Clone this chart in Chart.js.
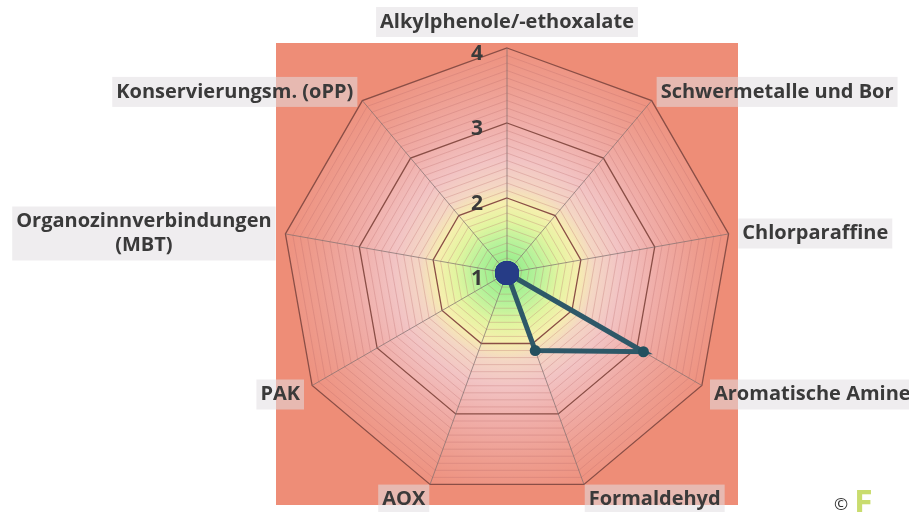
<!DOCTYPE html>
<html>
<head>
<meta charset="utf-8">
<script src="https://cdn.jsdelivr.net/npm/chart.js@4.4.0/dist/chart.umd.min.js"></script>
<style>
  html, body { margin: 0; padding: 0; background: #fff; }
  #wrap { position: relative; width: 909px; height: 512px; overflow: hidden; }
  .mark { position: absolute; font-family: "Open Sans"; }
</style>
</head>
<body>
<div id="wrap">
  <canvas id="chart" width="909" height="512"></canvas>
  <span class="mark" style="left:834px; top:492px; font-size:17px; color:#333;">©</span>
  <span class="mark" style="left:854px; top:478px; font-size:34px; font-weight:bold; color:#C9DC6E;">F</span>
</div>
<script>
// Categories, clockwise from the top
const categories = [
    'Alkylphenole/-ethoxalate',
    'Schwermetalle und Bor',
    'Chlorparaffine',
    'Aromatische Amine',
    'Formaldehyd',
    'AOX',
    'PAK',
    ['Organozinnverbindungen', '(MBT)'],
    'Konservierungsm. (oPP)'
];
const seriesValues = [1, 1, 1, 3.1, 2.1, 1, 1, 1, 1];
const tickLabels = [1, 2, 3, 4];

const labelFont = 'bold 20px "Open Sans"';

// Square + gradient behind the web
const backgroundPlugin = {
    id: 'webBackground',
    beforeDraw(chart) {
        const r = chart.scales.r;
        const ctx = chart.ctx;
        const cx = r.xCenter, cy = r.yCenter, R = r.drawingArea;
        const half = R + 6;
        ctx.save();
        ctx.fillStyle = '#EE8D77';
        ctx.fillRect(cx - half, cy - half + 1, half * 2, half * 2);

        const grad = ctx.createRadialGradient(cx, cy, 0, cx, cy, R);
        grad.addColorStop(0.00, '#8CEB84');
        grad.addColorStop(0.13, '#B4F29A');
        grad.addColorStop(0.23, '#E2F5A0');
        grad.addColorStop(0.31, '#F6EFAE');
        grad.addColorStop(0.39, '#F4D6C4');
        grad.addColorStop(0.50, '#F2C4C4');
        grad.addColorStop(0.66, '#F0AEA9');
        grad.addColorStop(0.84, '#EE9D8F');
        grad.addColorStop(1.00, '#EE917E');
        ctx.fillStyle = grad;
        ctx.beginPath();
        categories.forEach((c, i) => {
            const p = r.getPointPosition(i, R);
            if (i === 0) ctx.moveTo(p.x, p.y); else ctx.lineTo(p.x, p.y);
        });
        ctx.closePath();
        ctx.fill();
        ctx.restore();
    }
};

// Category labels with light boxes, centred on the spoke direction
const labelPlugin = {
    id: 'categoryLabels',
    afterDraw(chart) {
        const r = chart.scales.r;
        const ctx = chart.ctx;
        const lineH = 24;
        ctx.save();
        ctx.font = labelFont;
        ctx.textBaseline = 'middle';
        categories.forEach((label, i) => {
            const lines = Array.isArray(label) ? label : [label];
            const p = r.getPointPosition(i, r.drawingArea + 14);
            const w = Math.max(...lines.map(l => ctx.measureText(l).width));
            const h = lines.length * lineH;
            const ang = Math.round(r.getIndexAngle(i) * 180 / Math.PI);
            let left;
            if (ang === 0) left = p.x - w / 2;
            else if (ang < 180) left = p.x;
            else left = p.x - w;
            const top = ang === 0 ? p.y - h : p.y - h / 2 + 2;

            ctx.fillStyle = 'rgba(226, 222, 226, 0.55)';
            ctx.fillRect(left - 4, top - 3, w + 8, h + 6);

            ctx.fillStyle = '#3A3A3A';
            ctx.textAlign = 'center';
            lines.forEach((l, k) => {
                ctx.fillText(l, left + w / 2, top + lineH * k + lineH / 2);
            });
        });

        // Tick numbers, left of the top spoke
        ctx.font = 'bold 21px "Open Sans"';
        ctx.textAlign = 'center';
        tickLabels.forEach(v => {
            const d = r.getDistanceFromCenterForValue(v);
            ctx.fillText(String(v), r.xCenter - 30, r.yCenter - d + 6);
        });
        ctx.restore();
    }
};

new Chart(document.getElementById('chart'), {
    type: 'radar',
    data: {
        labels: categories,
        datasets: [{
            data: seriesValues,
            borderColor: '#2E5868',
            borderWidth: 5,
            fill: false,
            pointStyle: 'circle',
            pointRadius: seriesValues.map(v => v === 1 ? 12 : 5.5),
            pointBackgroundColor: seriesValues.map(v => v === 1 ? '#263C86' : '#23505F'),
            pointBorderWidth: 0
        }]
    },
    options: {
        responsive: false,
        animation: false,
        layout: { padding: { left: 282, right: 177, top: 48, bottom: 14 } },
        plugins: {
            legend: { display: false },
            tooltip: { enabled: false }
        },
        scales: {
            r: {
                min: 1,
                max: 4,
                ticks: { display: false, stepSize: 0.1 },
                grid: {
                    color: ctx => Math.abs(ctx.tick.value - Math.round(ctx.tick.value)) < 1e-6 ? '#8A4E46' : 'rgba(185, 105, 105, 0.3)',
                    lineWidth: ctx => Math.abs(ctx.tick.value - Math.round(ctx.tick.value)) < 1e-6 ? 1.3 : 1
                },
                angleLines: { color: 'rgba(125, 110, 110, 0.7)', lineWidth: 1 },
                pointLabels: { display: false }
            }
        }
    },
    plugins: [backgroundPlugin, labelPlugin]
});
</script>
</body>
</html>
